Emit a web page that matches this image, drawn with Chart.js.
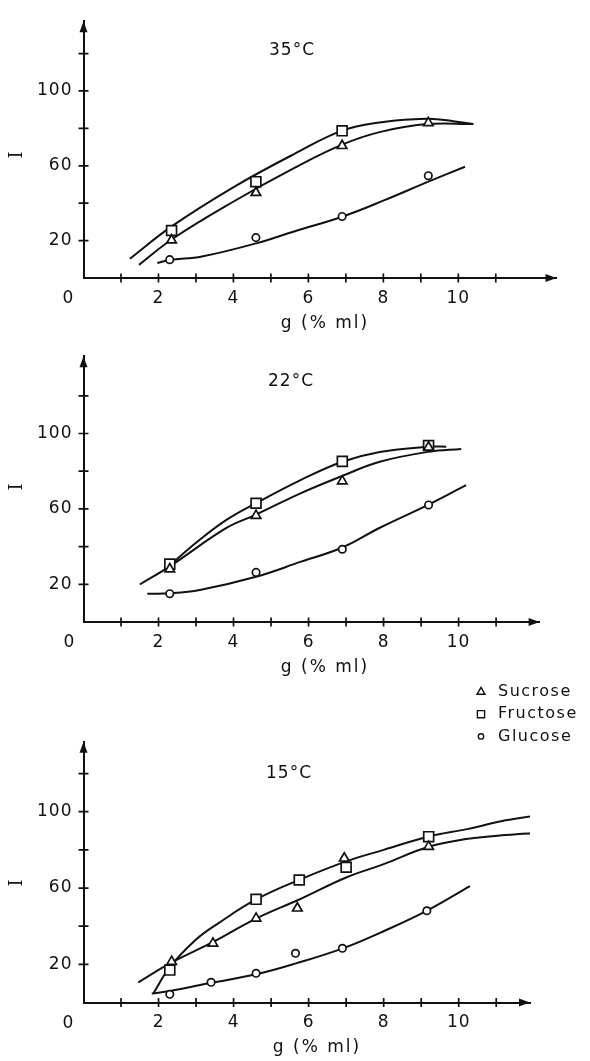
<!DOCTYPE html>
<html>
<head>
<meta charset="utf-8">
<script src="https://cdn.jsdelivr.net/npm/chart.js@4.4.1/dist/chart.umd.min.js"></script>
<style>
  html, body { margin: 0; padding: 0; background: #fff; }
  body { width: 590px; height: 1061px; position: relative; overflow: hidden; }
  canvas { position: absolute; left: 0; }
</style>
</head>
<body>
<canvas id="chart35" width="590" height="340" style="top:0px"></canvas>
<canvas id="chart22" width="590" height="355" style="top:335px"></canvas>
<canvas id="chart15" width="590" height="381" style="top:680px"></canvas>
<script>
// Values, as [g (% ml), I]

// 35 °C
const sucrose35 = [[2.35, 20.2], [4.6, 45.6], [6.9, 70.7], [9.2, 82.9]];
const fructose35 = [[2.35, 25.4], [4.6, 51.5], [6.9, 78.7]];
const glucose35 = [[2.3, 9.8], [4.6, 21.6], [6.9, 32.9], [9.2, 54.7]];
const sucroseCurve35 = [[1.48, 7], [2.38, 21], [4.04, 41.3], [5.64, 59], [6.9, 71.3], [7.9, 78], [9.15, 82.3], [10.4, 82.3]];
const fructoseCurve35 = [[1.24, 10.3], [2.36, 27.7], [4.04, 49], [5.64, 66.5], [6.9, 78.8], [7.9, 83.2], [8.96, 85], [9.5, 84.8], [10.4, 82.3]];
const glucoseCurve35 = [[1.97, 8], [2.3, 9.6], [3.16, 11.5], [4.6, 18.5], [5.64, 25], [6.92, 32.9], [8.03, 41.6], [9.2, 51.5], [10.18, 59.5]];

// 22 °C
const sucrose22 = [[2.3, 28.1], [4.6, 56.4], [6.9, 74.7], [9.2, 92.7]];
const fructose22 = [[2.3, 30.7], [4.6, 63], [6.9, 85.2], [9.2, 93.6]];
const glucose22 = [[2.3, 15], [4.6, 26.3], [6.9, 38.6], [9.2, 62.1]];
const sucroseCurve22 = [[1.5, 19.9], [2.3, 29.5], [3.8, 49.8], [4.6, 57], [5.8, 68.4], [6.9, 77.5], [7.9, 85], [9.2, 90.3], [10.07, 91.8]];
const fructoseCurve22 = [[2.3, 30], [3.0, 42], [3.8, 54], [4.6, 63], [5.8, 75.4], [6.9, 85], [7.9, 90.2], [9.2, 93], [9.67, 93]];
const glucoseCurve22 = [[1.7, 15], [2.3, 15.2], [3.1, 17], [4.6, 24], [5.8, 32], [6.9, 39.5], [7.9, 50], [9.2, 62.3], [10.2, 72.6]];

// 15 °C
const sucrose15 = [[2.35, 21.4], [3.45, 31], [4.6, 44.1], [5.7, 49.4], [6.95, 75.6], [9.2, 81.7]];
const fructose15 = [[2.3, 17], [4.6, 54.1], [5.75, 64.2], [7.0, 70.9], [9.2, 86.9]];
const glucose15 = [[2.3, 4.3], [3.4, 10.6], [4.6, 15.3], [5.65, 25.8], [6.9, 28.4], [9.15, 48.1]];
const sucroseCurve15 = [[1.46, 10.5], [2.35, 21], [3.43, 31.5], [4.6, 44], [5.75, 54], [7.0, 65.5], [8.0, 72.5], [9.2, 81.6], [10.25, 85.8], [11.25, 87.8], [12.25, 89]];
const fructoseCurve15 = [[1.87, 5], [2.3, 18.5], [3.0, 33], [3.6, 41.6], [4.6, 54], [5.75, 64.3], [7.0, 74], [8.0, 80], [9.2, 87], [10.25, 91], [11.25, 95.5], [12.43, 99]];
const glucoseCurve15 = [[1.82, 4.7], [2.3, 6], [3.4, 10.3], [4.6, 14.8], [5.66, 20.5], [6.93, 28.5], [8.07, 38], [9.17, 48.3], [10.3, 61]];

const xTickLabels = [2, 4, 6, 8, 10];
const yTickLabels = [20, 60, 100];
const legendNames = ['Sucrose', 'Fructose', 'Glucose'];

const INK = '#111';
const FONT = '"DejaVu Sans", sans-serif';

// Panel layout, in canvas pixels
const panels = [
    {
        id: 'chart35', title: '35°C', height: 340,
        axisLeft: 83.5, axisTop: 15, axisBottom: 278, axisRight: 556.5, xMax: 12.62, yMax: 137.3,
        titleAt: [292, 51], yTitleY: 155, xTitleAt: [325, 324], zeroAt: [68.5, 299],
        series: [sucrose35, fructose35, glucose35], curves: [sucroseCurve35, fructoseCurve35, glucoseCurve35]
    },
    {
        id: 'chart22', title: '22°C', height: 355,
        axisLeft: 83.5, axisTop: 19, axisBottom: 287, axisRight: 539.6, xMax: 12.16, yMax: 141,
        titleAt: [291, 47], yTitleY: 152, xTitleAt: [325, 333], zeroAt: [69.5, 308],
        series: [sucrose22, fructose22, glucose22], curves: [sucroseCurve22, fructoseCurve22, glucoseCurve22]
    },
    {
        id: 'chart15', title: '15°C', height: 381, legend: true,
        axisLeft: 83.5, axisTop: 61.7, axisBottom: 322.5, axisRight: 530, xMax: 11.9, yMax: 136.7,
        titleAt: [289, 94], yTitleY: 203, xTitleAt: [317, 368], zeroAt: [68.5, 344],
        series: [sucrose15, fructose15, glucose15], curves: [sucroseCurve15, fructoseCurve15, glucoseCurve15]
    }
];

const markerStyles = [
    { pointStyle: 'triangle', pointRadius: 5.5 },
    { pointStyle: 'rect', pointRadius: 7 },
    { pointStyle: 'circle', pointRadius: 3.7 }
];

function drawMarker(ctx, style, x, y, r) {
    ctx.beginPath();
    if (style === 'triangle') {
        ctx.moveTo(x, y - r);
        ctx.lineTo(x + r * 0.866, y + r * 0.5);
        ctx.lineTo(x - r * 0.866, y + r * 0.5);
        ctx.closePath();
    } else if (style === 'rect') {
        ctx.rect(x - r, y - r, 2 * r, 2 * r);
    } else {
        ctx.arc(x, y, r, 0, Math.PI * 2);
    }
    ctx.fillStyle = '#fff';
    ctx.fill();
    ctx.stroke();
}

// Axis ticks crossing the axes, arrow heads, titles and the legend
const axisDecor = {
    id: 'axisDecor',
    beforeDraw(chart) {
        chart.ctx.letterSpacing = '1px';
    },
    afterDraw(chart, args, p) {
        const { ctx, chartArea: a, scales: { x, y } } = chart;
        ctx.save();
        ctx.strokeStyle = INK;
        ctx.fillStyle = INK;
        ctx.lineWidth = 1.7;

        ctx.beginPath();
        x.ticks.forEach(t => {
            if (t.value > 0 && t.value <= 11) {
                const px = x.getPixelForValue(t.value);
                ctx.moveTo(px, a.bottom - 4.5);
                ctx.lineTo(px, a.bottom + 4.5);
            }
        });
        y.ticks.forEach(t => {
            if (t.value > 0 && t.value <= 120) {
                const py = y.getPixelForValue(t.value);
                ctx.moveTo(a.left - 5, py);
                ctx.lineTo(a.left + 5, py);
            }
        });
        ctx.stroke();

        // arrow heads
        ctx.beginPath();
        ctx.moveTo(a.left, a.top);
        ctx.lineTo(a.left - 4, a.top + 11);
        ctx.lineTo(a.left + 4, a.top + 11);
        ctx.closePath();
        ctx.fill();
        ctx.beginPath();
        ctx.moveTo(a.right, a.bottom);
        ctx.lineTo(a.right - 11, a.bottom - 4);
        ctx.lineTo(a.right - 11, a.bottom + 4);
        ctx.closePath();
        ctx.fill();

        ctx.font = '17px ' + FONT;
        ctx.letterSpacing = '1px';
        ctx.textAlign = 'center';
        ctx.textBaseline = 'middle';
        ctx.fillText(p.title, p.titleAt[0], p.titleAt[1]);
        ctx.fillText('0', p.zeroAt[0], p.zeroAt[1]);
        ctx.letterSpacing = '2px';
        ctx.fillText('g (% ml)', p.xTitleAt[0], p.xTitleAt[1]);
        ctx.letterSpacing = '0px';
        ctx.font = '18px "DejaVu Serif", serif';
        ctx.save();
        ctx.translate(17, p.yTitleY);
        ctx.rotate(-Math.PI / 2);
        ctx.fillText('I', 0, 0);
        ctx.restore();

        if (p.legend) {
            ctx.lineWidth = 1.4;
            ctx.font = '16px ' + FONT;
            ctx.letterSpacing = '1.5px';
            ctx.textAlign = 'left';
            const sizes = [4.6, 3.6, 2.7];
            legendNames.forEach((name, i) => {
                const ly = 12 + i * 22.2;
                drawMarker(ctx, markerStyles[i].pointStyle, 481, ly, sizes[i]);
                ctx.fillStyle = INK;
                ctx.fillText(name, 498, ly);
            });
        }
        ctx.restore();
    }
};

function buildPanel(p) {
    const datasets = [];
    p.series.forEach((pts, i) => {
        datasets.push({
            label: legendNames[i],
            data: pts,
            pointStyle: markerStyles[i].pointStyle,
            pointRadius: markerStyles[i].pointRadius,
            pointBackgroundColor: '#fff',
            pointBorderColor: INK,
            pointBorderWidth: 1.7,
            showLine: false,
            order: 0
        });
    });
    p.curves.forEach(pts => {
        datasets.push({
            data: pts,
            showLine: true,
            borderColor: INK,
            borderWidth: 2,
            pointRadius: 0,
            fill: false,
            tension: 0.4,
            order: 1
        });
    });

    new Chart(document.getElementById(p.id), {
        type: 'scatter',
        data: { datasets },
        plugins: [axisDecor],
        options: {
            responsive: false,
            animation: false,
            devicePixelRatio: 1,
            layout: { padding: { top: p.axisTop, right: 590 - p.axisRight, left: 0, bottom: 0 } },
            scales: {
                x: {
                    type: 'linear', min: 0, max: p.xMax,
                    afterFit: s => { s.height = p.height - p.axisBottom; },
                    grid: { display: false, drawTicks: false },
                    border: { display: true, color: INK, width: 2 },
                    ticks: {
                        stepSize: 1, includeBounds: false, autoSkip: false, maxRotation: 0,
                        padding: 10, color: INK, font: { family: FONT, size: 17 },
                        callback: v => xTickLabels.includes(v) ? String(v) : ''
                    }
                },
                y: {
                    type: 'linear', min: 0, max: p.yMax,
                    afterFit: s => { s.width = p.axisLeft; },
                    grid: { display: false, drawTicks: false },
                    border: { display: true, color: INK, width: 2 },
                    ticks: {
                        stepSize: 20, includeBounds: false, autoSkip: false,
                        padding: 11, color: INK, font: { family: FONT, size: 17 },
                        callback: v => yTickLabels.includes(v) ? String(v) : ''
                    }
                }
            },
            plugins: {
                legend: { display: false },
                tooltip: { enabled: false },
                axisDecor: p
            }
        }
    });
}

panels.forEach(buildPanel);
</script>
</body>
</html>
